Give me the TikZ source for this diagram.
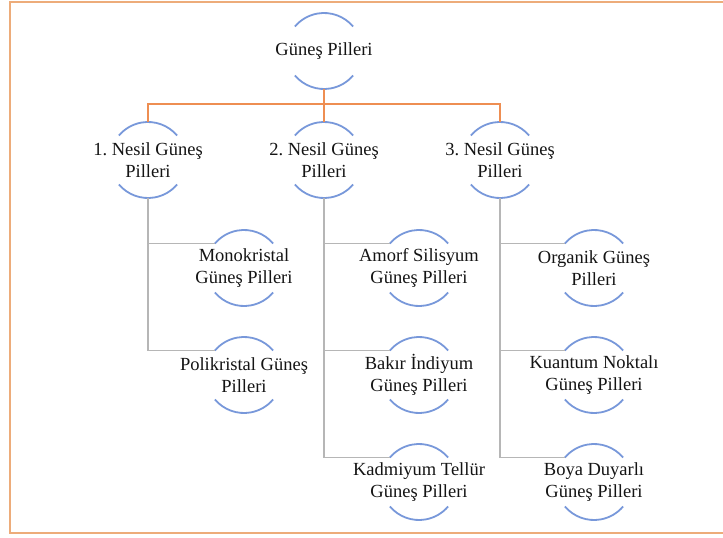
\documentclass[tikz,border=0pt]{standalone}
\usepackage{fontspec}
\setmainfont{Liberation Serif}
\definecolor{bordc}{RGB}{237,172,122}
\definecolor{orc}{RGB}{238,142,82}
\definecolor{arcc}{RGB}{120,152,218}
\definecolor{grc}{RGB}{182,182,182}
\definecolor{txc}{RGB}{20,20,20}
\newcommand\solnode[3]{%
  \node[lbl] (#1) at (#2) {#3};
  \draw[arcst] ([shift={(40:38pt)}]#1.center) arc[start angle=40,end angle=140,radius=38pt];
  \draw[arcst] ([shift={(220:38pt)}]#1.center) arc[start angle=220,end angle=320,radius=38pt];
  \coordinate (#1-t) at ([shift={(0,38pt)}]#1.center);
  \coordinate (#1-b) at ([shift={(0,-38pt)}]#1.center);
  \coordinate (#1-l) at ([shift={(140:38pt)}]#1.center);
}
\begin{document}
\begin{tikzpicture}[x=1pt,y=-1pt,
  lbl/.style={align=center,inner sep=0pt,text=txc,font=\fontsize{18.5}{22}\selectfont},
  arcst/.style={draw=arcc,line width=1.8pt},
  oline/.style={draw=orc,line width=1.8pt},
  gline/.style={draw=grc,line width=1.8pt},
  bord/.style={draw=bordc,line width=2.6pt}]
\useasboundingbox (0,0) rectangle (723,538);
\draw[bord] (724,2) -- (10,2) -- (10,533) -- (724,533);

\solnode{root}{324,51}{Güneş Pilleri}
\solnode{n1}{148,160}{1.\ Nesil Güneş\\Pilleri}
\solnode{n2}{324,160}{2.\ Nesil Güneş\\Pilleri}
\solnode{n3}{500,160}{3.\ Nesil Güneş\\Pilleri}

\solnode{c11}{244,268}{Monokristal\\Güneş Pilleri}
\solnode{c12}{244,375}{Polikristal Güneş\\Pilleri}
\solnode{c21}{419,268}{Amorf Silisyum\\Güneş Pilleri}
\solnode{c22}{419,375}{Bakır İndiyum\\Güneş Pilleri}
\solnode{c23}{419,482}{Kadmiyum Tellür\\Güneş Pilleri}
\solnode{c31}{594,268}{Organik Güneş\\Pilleri}
\solnode{c32}{594,375}{Kuantum Noktalı\\Güneş Pilleri}
\solnode{c33}{594,482}{Boya Duyarlı\\Güneş Pilleri}

\coordinate (bus) at (324,104);
\draw[oline] (root-b) -- (bus);
\draw[oline] (n1-t) -- (n1-t |- bus) -- (n3-t |- bus) -- (n3-t);
\draw[oline] (bus) -- (n2-t);

\draw[gline] (n1-b) |- (c12-l);
\draw[gline] (n1-b |- c11-l) -- (c11-l);
\draw[gline] (n2-b) |- (c23-l);
\draw[gline] (n2-b |- c21-l) -- (c21-l);
\draw[gline] (n2-b |- c22-l) -- (c22-l);
\draw[gline] (n3-b) |- (c33-l);
\draw[gline] (n3-b |- c31-l) -- (c31-l);
\draw[gline] (n3-b |- c32-l) -- (c32-l);
\end{tikzpicture}
\end{document}
